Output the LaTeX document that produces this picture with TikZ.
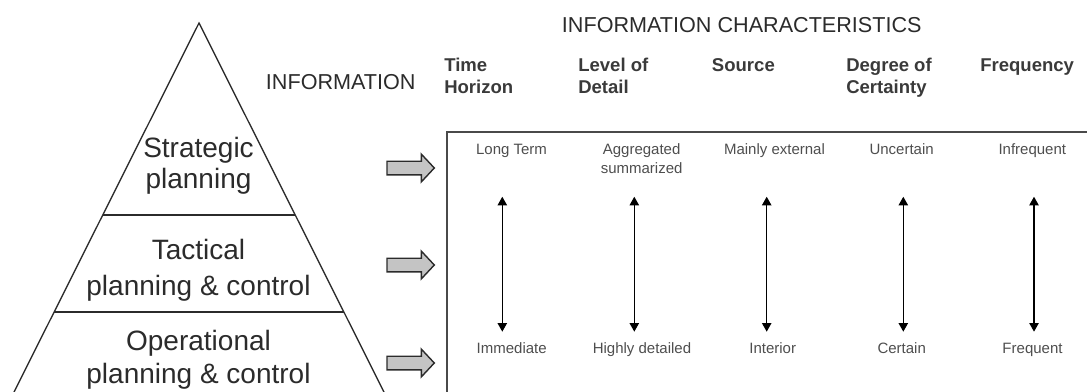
\documentclass[tikz,border=0pt]{standalone}
\usepackage{fontspec}
\setmainfont{Liberation Sans}
\usetikzlibrary{arrows.meta,calc}
\definecolor{ink}{HTML}{2B2B2B}
\definecolor{headgray}{HTML}{3A3A3A}
\definecolor{rowgray}{HTML}{4E4E4E}
\definecolor{framegray}{HTML}{4A4A4A}
\definecolor{arrowfill}{HTML}{C4C4C4}
\begin{document}
\begin{tikzpicture}[x=0.75pt,y=-0.75pt,
  level/.style={font=\fontsize{21}{25}\selectfont, text=ink, inner sep=0pt, anchor=base},
  biglabel/.style={font=\fontsize{16.2}{19}\selectfont, text=ink, inner sep=0pt, anchor=base west},
  header/.style={font=\bfseries\fontsize{13.9}{16.5}\selectfont, text=headgray, inner sep=0pt, anchor=base west},
  rowtext/.style={font=\fontsize{11.25}{13}\selectfont, text=rowgray, inner sep=0pt, anchor=base},
  edge/.style={draw=ink, line width=1pt},
  frameline/.style={draw=framegray, line width=1.3pt},
  spanarrow/.style={draw=black, line width=1.05pt,
    {Triangle[length=6.5pt,width=7pt]}-{Triangle[length=6.5pt,width=7pt]}},
  blockarrow/.pic={
    \draw[draw=ink, fill=arrowfill, line width=1.05pt, line join=miter]
      (-23.7,-6.8) -- (10.6,-6.8) -- (10.6,-13.9) -- (23.6,0)
      -- (10.6,13.9) -- (10.6,6.8) -- (-23.7,6.8) -- cycle;
  },
]
\useasboundingbox (0,0) rectangle (1087,392);
\clip (0,0) rectangle (1087,392);

% pyramid of management levels
\coordinate (apex) at (199,23);
\coordinate (baseL) at (0,420);
\coordinate (baseR) at (398,420);
\draw[edge, line join=miter] (baseL) -- (apex) -- (baseR);
\coordinate (d1L) at ($(apex)!0.4836!(baseL)$);
\coordinate (d1R) at ($(apex)!0.4836!(baseR)$);
\coordinate (d2L) at ($(apex)!0.7280!(baseL)$);
\coordinate (d2R) at ($(apex)!0.7280!(baseR)$);
\draw[edge] (d1L) -- (d1R);
\draw[edge] (d2L) -- (d2R);

\node[level] (strat1) at (198.5,157) {Strategic};
\node[level] (strat2) at (198.5,188.3) {planning};
\node[level] (tact1)  at (198.5,259.3) {Tactical};
\node[level] (tact2)  at (198.5,295) {planning \& control};
\node[level] (oper1)  at (198.5,350.7) {Operational};
\node[level] (oper2)  at (198.5,383.3) {planning \& control};

% headings
\node[biglabel] (info)  at (265.7,89.3) {INFORMATION};
\node[biglabel] (chars) at (561.7,32.3) {INFORMATION CHARACTERISTICS};

\node[header] (hTime1) at (444,72) {Time};
\node[header] (hTime2) at (444,94) {Horizon};
\node[header] (hLev1)  at (578,72) {Level of};
\node[header] (hLev2)  at (578,94) {Detail};
\node[header] (hSrc)   at (711.7,72) {Source};
\node[header] (hDeg1)  at (846,72) {Degree of};
\node[header] (hDeg2)  at (846,94) {Certainty};
\node[header] (hFreq)  at (980,72) {Frequency};

% flow arrows from each level
\pic at (410.7,168) {blockarrow};
\pic at (410.7,265) {blockarrow};
\pic at (410.7,363) {blockarrow};

% characteristics table frame
\draw[frameline] (446.7,430) -- (446.7,132) -- (1100,132);

% top of each scale
\node[rowtext] (tTime) at (511.5,155) {Long Term};
\node[rowtext] (tLev1) at (641.6,155) {Aggregated};
\node[rowtext] (tLev2) at (641.6,173) {summarized};
\node[rowtext] (tSrc)  at (774.5,155) {Mainly external};
\node[rowtext] (tDeg)  at (901.6,155) {Uncertain};
\node[rowtext] (tFreq) at (1032.3,155) {Infrequent};

% bottom of each scale
\node[rowtext] (bTime) at (511.7,353.3) {Immediate};
\node[rowtext] (bLev)  at (642,353.3) {Highly detailed};
\node[rowtext] (bSrc)  at (772.7,353.3) {Interior};
\node[rowtext] (bDeg)  at (901.7,353.3) {Certain};
\node[rowtext] (bFreq) at (1032.5,353.3) {Frequent};

% scales
\foreach \n/\x in {Time/502.3, Lev/634.3, Src/766.7, Deg/903.3, Freq/1034}{
  \coordinate (up\n) at (\x,196.7);
  \coordinate (dn\n) at (\x,331.7);
  \draw[spanarrow] (up\n) -- (dn\n);
}
\end{tikzpicture}
\end{document}
